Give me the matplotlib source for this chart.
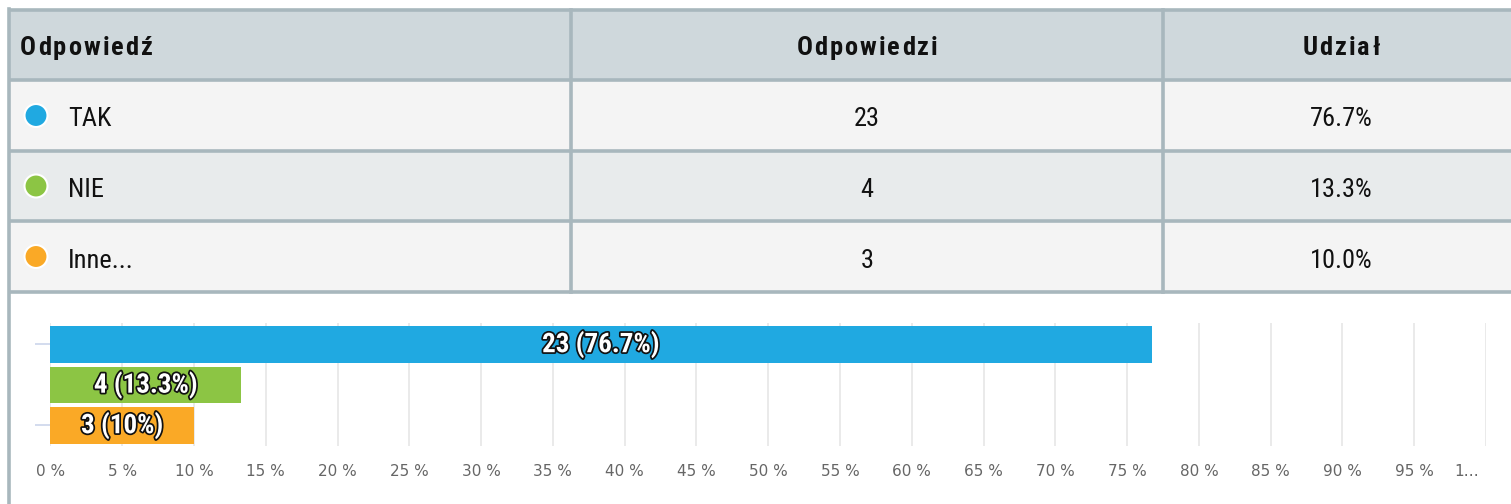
import matplotlib

matplotlib.use("Agg")
import matplotlib.pyplot as plt
import matplotlib.patheffects as pe
import matplotlib.transforms as mtransforms
from matplotlib import font_manager
from matplotlib.patches import Rectangle, Circle

# data
answers = ["TAK", "NIE", "Inne..."]
counts = [23, 4, 3]
shares = [76.7, 13.3, 10.0]
bar_labels = ["23 (76.7%)", "4 (13.3%)", "3 (10%)"]
colors = ["#20a9e1", "#8cc544", "#faa926"]
headers = ["Odpowiedź", "Odpowiedzi", "Udział"]
x_ticks = list(range(0, 101, 5))
x_ticklabels = [f"{t} %" for t in x_ticks[:-1]] + ["1…"]

installed = {f.name for f in font_manager.fontManager.ttflist}
narrow = next((n for n in ["Roboto Condensed", "Liberation Sans Narrow", "DejaVu Sans Condensed"]
               if n in installed), "DejaVu Sans")

W, H = 1511, 504
fig = plt.figure(figsize=(W / 100, H / 100), dpi=100)
fig.patch.set_facecolor("white")
renderer = fig.canvas.get_renderer()

# table drawn in pixel coordinates
tbl = fig.add_axes([0, 0, 1, 1])
tbl.set_xlim(0, W)
tbl.set_ylim(H, 0)
tbl.axis("off")


def spaced_text(x, y, s, spacing, ha="left", **kw):
    # matplotlib has no letter-spacing, so lay the glyphs out one by one
    widths = []
    for ch in s:
        t = tbl.text(0, 0, ch, **kw)
        widths.append(t.get_window_extent(renderer).width)
        t.remove()
    total = sum(widths) + spacing * (len(s) - 1)
    cx = x - total / 2 if ha == "center" else x
    for ch, w in zip(s, widths):
        tbl.text(cx, y, ch, ha="left", **kw)
        cx += w + spacing


border = "#a8b7bd"
row_edges = [10, 80, 151, 221, 292]
row_bg = ["#cfd8dc", "#f4f4f4", "#e8ebec", "#f4f4f4"]
col_edges = [9, 571, 1163, W + 10]
for i, bg in enumerate(row_bg):
    tbl.add_patch(Rectangle((9, row_edges[i]), W, row_edges[i + 1] - row_edges[i],
                            facecolor=bg, edgecolor="none", zorder=1))
for y in row_edges:
    tbl.plot([8, W], [y, y], color=border, lw=2.6, zorder=3, solid_capstyle="butt")
for x in col_edges[1:3]:
    tbl.plot([x, x], [row_edges[0], row_edges[-1]], color=border, lw=2.6, zorder=3)
tbl.plot([9, 9], [row_edges[0] - 1, H], color=border, lw=2.6, zorder=3)

col_centers = [(col_edges[1] + col_edges[2]) / 2, 1341]
hy = 55
head_kw = dict(fontsize=19, fontweight="semibold", family=narrow, va="baseline",
               color="#111111", zorder=4)
spaced_text(20, hy, headers[0], 2.0, **head_kw)
for cx, h in zip(col_centers, headers[1:]):
    spaced_text(cx, hy, h, 2.0, ha="center", **head_kw)

for i, (name, n, s, c) in enumerate(zip(answers, counts, shares, colors)):
    cy = (row_edges[i + 1] + row_edges[i + 2]) / 2
    base = cy + 11
    tbl.add_patch(Circle((36, cy), 11.5, facecolor=c, edgecolor="white", lw=1.5, zorder=4))
    tbl.text(68, base, name, fontsize=19, family=narrow, va="baseline", ha="left",
             color="#111111", zorder=4)
    tbl.text(col_centers[0], base, str(n), fontsize=19, family=narrow, va="baseline",
             ha="center", color="#111111", zorder=4)
    tbl.text(col_centers[1], base, f"{s:.1f}%", fontsize=19, family=narrow, va="baseline",
             ha="center", color="#111111", zorder=4)

# bar chart
x0, x100 = 50.4, 1486
top, bottom = 323, 446
ax = fig.add_axes([x0 / W, 1 - bottom / H, (x100 - x0) / W, (bottom - top) / H])
ax.set_facecolor("none")
ypos = list(range(len(answers)))
ax.barh(ypos, shares, height=0.9, color=colors, zorder=2)
ax.set_xlim(0, 100)
ax.set_ylim(2.511, -0.526)
ax.set_xticks(x_ticks)
ax.set_xticklabels(x_ticklabels, fontsize=11, color="#666666")
ax.tick_params(axis="x", length=0, pad=13)
last = ax.get_xticklabels()[-1]
last.set_transform(last.get_transform() + mtransforms.ScaledTranslation(-0.19, 0, fig.dpi_scale_trans))
ax.set_yticks([0, 2])
ax.set_yticklabels([])
ax.tick_params(axis="y", length=11, width=1.2, color="#ccd6eb")
ax.grid(axis="x", color="#e6e6e6", lw=1.2, zorder=0)
for sp in ax.spines.values():
    sp.set_visible(False)

for y, v, lab in zip(ypos, shares, bar_labels):
    t = ax.text(v / 2, y, lab, ha="center", va="center", fontsize=19.5, fontweight="bold",
                family=narrow, color="white", zorder=3)
    t.set_path_effects([pe.withStroke(linewidth=2.5, foreground="#111111")])

fig.savefig("out.png", dpi=100)
